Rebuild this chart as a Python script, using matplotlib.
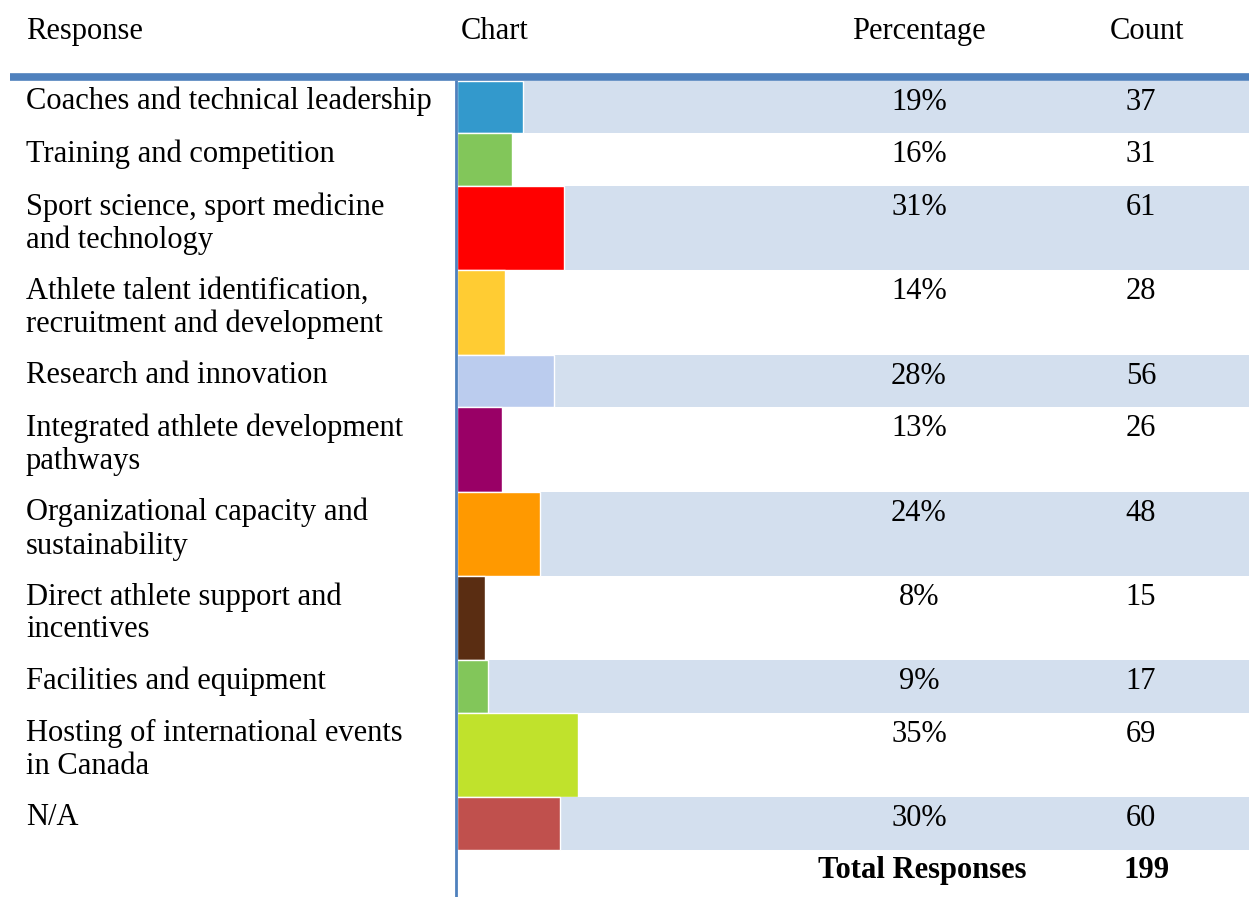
import matplotlib.pyplot as plt

# survey results
responses = [
    "Coaches and technical leadership",
    "Training and competition",
    "Sport science, sport medicine\nand technology",
    "Athlete talent identification,\nrecruitment and development",
    "Research and innovation",
    "Integrated athlete development\npathways",
    "Organizational capacity and\nsustainability",
    "Direct athlete support and\nincentives",
    "Facilities and equipment",
    "Hosting of international events\nin Canada",
    "N/A",
]
percentages = [19, 16, 31, 14, 28, 13, 24, 8, 9, 35, 30]
counts = [37, 31, 61, 28, 56, 26, 48, 15, 17, 69, 60]
total_responses = 199
bar_colors = ["#3399CC", "#82C65A", "#FF0000", "#FFCC33", "#BBCCEE", "#990066",
              "#FF9900", "#5A2D12", "#82C65A", "#C0E22C", "#C0504D"]

W, H = 1249, 897
fig = plt.figure(figsize=(W / 100, H / 100), dpi=100)
ax = fig.add_axes([0, 0, 1, 1])
ax.set_xlim(0, W)
ax.set_ylim(H, 0)
ax.axis("off")

font = "Liberation Serif"
fs = 22
chart_x = 457
px_per_pct = 3.45
shade = "#D3DFEE"
rule = "#4F81BD"

# header
hy = 39
ax.text(26, hy, "Response", fontsize=fs, family=font, va="baseline")
ax.text(461, hy, "Chart", fontsize=fs, family=font, va="baseline")
ax.text(919, hy, "Percentage", fontsize=fs, family=font, va="baseline", ha="center")
ax.text(1147, hy, "Count", fontsize=fs, family=font, va="baseline", ha="center")

# rows
top = 81
for i, (lab, pct, cnt, col) in enumerate(zip(responses, percentages, counts, bar_colors)):
    nlines = lab.count("\n") + 1
    h = 52.5 if nlines == 1 else 84.4
    yc = top + h / 2
    if i % 2 == 0:
        ax.barh(yc, W - chart_x, height=h, left=chart_x, color=shade, linewidth=0)
    ax.barh(yc, pct * px_per_pct, height=h, left=chart_x, color=col,
            edgecolor="white", linewidth=1)
    ty = top + 29
    ax.text(26, top + 6, lab, fontsize=fs, family=font, va="top", linespacing=1.17)
    ax.text(919, ty, f"{pct}%", fontsize=fs, family=font, va="baseline", ha="center")
    ax.text(1141, ty, str(cnt), fontsize=fs, family=font, va="baseline", ha="center")
    top += h

# total row
ax.text(922, top + 28, "Total Responses", fontsize=fs, family=font, va="baseline",
        ha="center", fontweight="bold")
ax.text(1147, top + 28, str(total_responses), fontsize=fs, family=font, va="baseline",
        ha="center", fontweight="bold")

# rules
ax.plot([10, W], [77, 77], color=rule, linewidth=5.5, solid_capstyle="butt")
ax.plot([456, 456], [80, H], color=rule, linewidth=2, solid_capstyle="butt")

fig.savefig("out.png", dpi=100)
